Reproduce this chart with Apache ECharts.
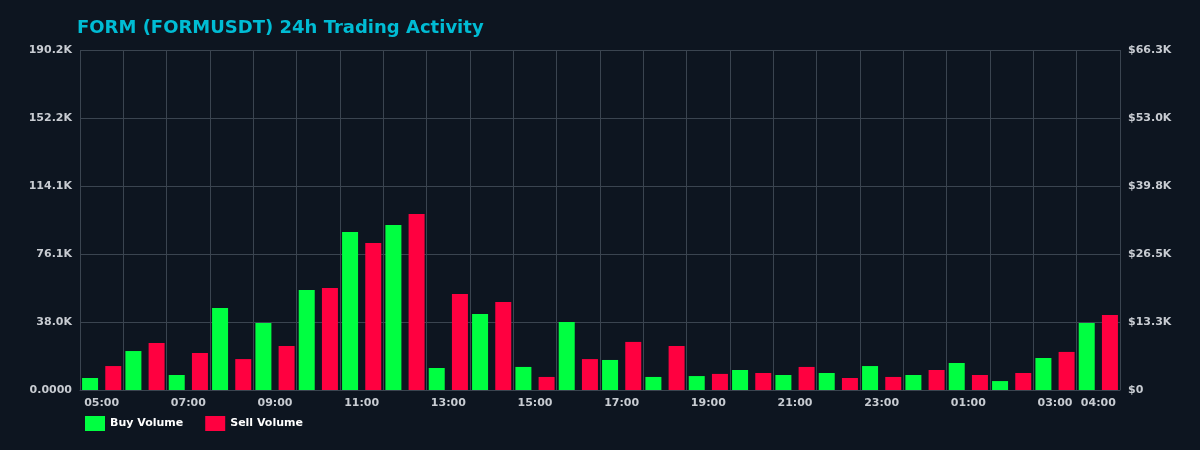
<!DOCTYPE html>
<html><head><meta charset="utf-8">
<script src="https://cdn.jsdelivr.net/npm/echarts@6/dist/echarts.min.js"></script>
<style>html,body{margin:0;padding:0;background:#0d1520}#c{width:1200px;height:450px}</style>
</head><body><div id="c"></div>
<script>
const categories = ["05:00","06:00","07:00","08:00","09:00","10:00","11:00","12:00","13:00","14:00","15:00","16:00","17:00","18:00","19:00","20:00","21:00","22:00","23:00","00:00","01:00","02:00","03:00","04:00"];
const buyVolume = [6.7,21.8,8.4,45.9,37.5,55.9,88.4,92.3,12.3,42.5,12.9,38.0,16.8,7.3,7.8,11.2,8.4,9.5,13.4,8.4,15.1,5.0,17.9,37.5];
const sellVolume = [13.4,26.3,20.7,17.3,24.6,57.0,82.2,98.5,53.7,49.2,7.3,17.3,26.9,24.6,9.0,9.5,12.9,6.7,7.3,11.2,8.4,9.5,21.3,42.0];
const leftTicks = ["0.0000","38.0K","76.1K","114.1K","152.2K","190.2K"];
const rightTicks = ["$0","$13.3K","$26.5K","$39.8K","$53.0K","$66.3K"];
const toK = a => a.map(v => v*1000);
const lbl = {color:'#c8ccd2',fontSize:11,fontWeight:'bold',fontFamily:'DejaVu Sans'};
const chart = echarts.init(document.getElementById('c'));
chart.setOption({
  backgroundColor:'#0d1520',
  animation:false,
  title:{text:'FORM (FORMUSDT) 24h Trading Activity',left:72,top:14,textStyle:{color:'#00bcd4',fontSize:18,fontWeight:'bold',fontFamily:'DejaVu Sans'}},
  legend:{left:80,bottom:14,itemWidth:20,itemHeight:15,itemGap:22,icon:'rect',textStyle:{color:'#ffffff',fontSize:11,fontWeight:'bold',fontFamily:'DejaVu Sans'},data:['Buy Volume','Sell Volume']},
  grid:{left:80,right:80,top:50,bottom:60},
  xAxis:{type:'category',data:categories,boundaryGap:true,
    axisLine:{lineStyle:{color:'#3a4450'}},axisTick:{show:false},
    axisLabel:Object.assign({},lbl,{interval:(i)=>i%2===0||i===23}),
    splitLine:{show:true,interval:0,lineStyle:{color:'#3a4450'}}},
  yAxis:[
    {type:'value',min:0,max:190200,interval:38040,
     axisLabel:Object.assign({},lbl,{formatter:(v,i)=>leftTicks[Math.round(v/38040)]}),
     axisLine:{show:false},splitLine:{lineStyle:{color:'#3a4450'}}},
    {type:'value',min:0,max:66300,interval:13260,position:'right',
     axisLabel:Object.assign({},lbl,{formatter:(v)=>rightTicks[Math.round(v/13260)]}),
     axisLine:{show:false},splitLine:{show:false}}
  ],
  series:[
    {name:'Buy Volume',type:'bar',data:toK(buyVolume),barWidth:16,barGap:'45%',itemStyle:{color:'#00ff41'}},
    {name:'Sell Volume',type:'bar',data:toK(sellVolume),barWidth:16,itemStyle:{color:'#ff0040'}}
  ]
});
</script></body></html>
